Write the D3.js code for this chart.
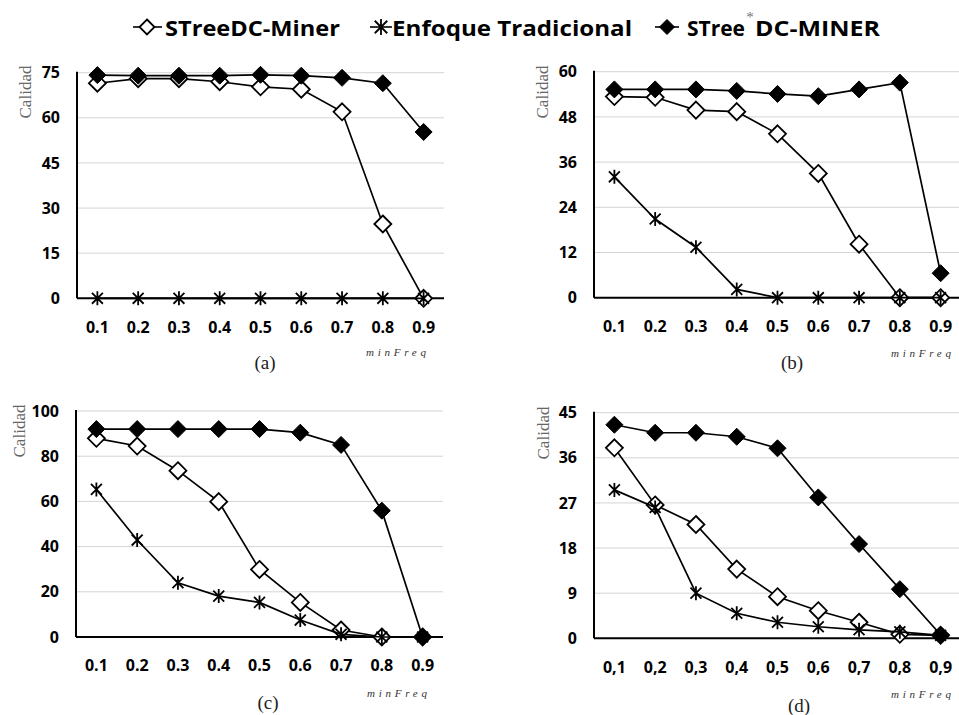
<!DOCTYPE html>
<html>
<head>
<meta charset="utf-8">
<script src="https://cdn.jsdelivr.net/npm/d3@7"></script>
<style>
  html, body { margin: 0; padding: 0; background: #fff; }
  svg { display: block; }
</style>
</head>
<body>
<svg id="chart" width="959" height="715"></svg>
<script>
// ---------- DATA ----------
const categories = ["0.1", "0.2", "0.3", "0.4", "0.5", "0.6", "0.7", "0.8", "0.9"];
const categoriesComma = ["0,1", "0,2", "0,3", "0,4", "0,5", "0,6", "0,7", "0,8", "0,9"];
const seriesNames = ["STreeDC-Miner", "Enfoque Tradicional", "STree*DC-MINER"];

const aMiner = [71.5, 73, 73, 72, 70.3, 69.5, 62, 24.7, 0];
const aTrad  = [0, 0, 0, 0, 0, 0, 0, 0, 0];
const aStar  = [74.2, 74, 74, 74, 74.3, 74, 73.3, 71.5, 55.3];
const aTicks = [0, 15, 30, 45, 60, 75];

const bMiner = [53.4, 53.2, 49.8, 49.4, 43.5, 33, 14.2, 0, 0];
const bTrad  = [32.1, 20.9, 13.4, 2.2, 0, 0, 0, 0, 0];
const bStar  = [55.3, 55.3, 55.3, 54.9, 54.1, 53.5, 55.3, 57.1, 6.5];
const bTicks = [0, 12, 24, 36, 48, 60];

const cMiner = [87.9, 84.5, 73.6, 59.9, 29.9, 15.3, 3.1, 0, 0];
const cTrad  = [65.3, 42.9, 24, 18.1, 15.3, 7.5, 1.2, 0, 0];
const cStar  = [92, 92, 92, 92, 92, 90.4, 85, 55.9, 0];
const cTicks = [0, 20, 40, 60, 80, 100];

const dMiner = [38, 26.6, 22.7, 13.8, 8.3, 5.5, 3.2, 0.8, 0.6];
const dTrad  = [29.6, 26.1, 9, 5, 3.2, 2.3, 1.7, 1.3, 0.6];
const dStar  = [42.6, 41, 41, 40.2, 37.9, 28.1, 18.8, 9.8, 0.7];
const dTicks = [0, 9, 18, 27, 36, 45];

const panelLabels = ["(a)", "(b)", "(c)", "(d)"];

// ---------- LAYOUT ----------
const panels = [
  { cats: categories, series: [aMiner, aTrad, aStar], ticks: aTicks, x0: 77,  y0: 298.3, yTop: 72.7, calX: 25,  calY: 92,  mfX: 396, mfY: 352, capX: 265, capY: 362, label: panelLabels[0] },
  { cats: categories, series: [bMiner, bTrad, bStar], ticks: bTicks, x0: 594, y0: 297.7, yTop: 71.7, calX: 542, calY: 92,  mfX: 921, mfY: 352.5, capX: 792, capY: 362.5, label: panelLabels[1] },
  { cats: categories, series: [cMiner, cTrad, cStar], ticks: cTicks, x0: 76,  y0: 637,   yTop: 411,  calX: 19,  calY: 431, mfX: 397, mfY: 693, capX: 268, capY: 702, label: panelLabels[2] },
  { cats: categoriesComma, series: [dMiner, dTrad, dStar], ticks: dTicks, x0: 594, y0: 638.3, yTop: 412.7, calX: 543, calY: 433, mfX: 921, mfY: 694, capX: 799, capY: 705, label: panelLabels[3] }
];
const plotW = 367;

const svg = d3.select("#chart");
const sansBold = "'Open Sans', 'Noto Sans', sans-serif";
const serif = "'Liberation Serif', 'DejaVu Serif', serif";

// marker drawers
function diamondPath(r) { return `M0,${-r}L${r},0L0,${r}L${-r},0Z`; }
function starPath(r) {
  const d = r * 0.78;
  return `M0,${-r}L0,${r}M${-d},${-d}L${d},${d}M${-d},${d}L${d},${-d}`;
}
function drawMarker(g, type, cx, cy, r) {
  if (type === 0) {
    g.append("path").attr("d", diamondPath(r)).attr("transform", `translate(${cx},${cy})`)
      .attr("fill", "#fff").attr("stroke", "#000").attr("stroke-width", 1.8);
  } else if (type === 1) {
    g.append("path").attr("d", starPath(r)).attr("transform", `translate(${cx},${cy})`)
      .attr("fill", "none").attr("stroke", "#000").attr("stroke-width", 1.8);
  } else {
    g.append("path").attr("d", diamondPath(r)).attr("transform", `translate(${cx},${cy})`)
      .attr("fill", "#000").attr("stroke", "#000").attr("stroke-width", 1);
  }
}

panels.forEach(p => {
  const g = svg.append("g");
  const x = d3.scaleBand().domain(p.cats).range([p.x0, p.x0 + plotW]);
  const ymax = p.ticks[p.ticks.length - 1];
  const y = d3.scaleLinear().domain([0, ymax]).range([p.y0, p.yTop]);

  // gridlines
  g.append("g").selectAll("line").data(p.ticks.filter(t => t > 0)).join("line")
    .attr("x1", p.x0).attr("x2", p.x0 + plotW)
    .attr("y1", d => y(d)).attr("y2", d => y(d))
    .attr("stroke", "#d4d4d4").attr("stroke-width", 1);

  // y axis labels
  const yAxis = g.append("g").attr("transform", `translate(${p.x0},0)`)
    .call(d3.axisLeft(y).tickValues(p.ticks).tickSize(0).tickPadding(17));
  yAxis.select(".domain").remove();
  yAxis.selectAll("text").attr("font-family", sansBold).attr("font-weight", "bold")
    .attr("font-size", 16).attr("fill", "#000");

  // x axis labels
  const xAxis = g.append("g").attr("transform", `translate(0,${p.y0})`)
    .call(d3.axisBottom(x).tickSize(0).tickPadding(23));
  xAxis.select(".domain").remove();
  xAxis.selectAll("text").attr("font-family", sansBold).attr("font-weight", "bold")
    .attr("font-size", 16).attr("fill", "#000");

  // axis lines
  g.append("line").attr("x1", p.x0).attr("x2", p.x0).attr("y1", p.yTop - 1).attr("y2", p.y0)
    .attr("stroke", "#000").attr("stroke-width", 2);
  g.append("line").attr("x1", p.x0).attr("x2", p.x0 + plotW).attr("y1", p.y0).attr("y2", p.y0)
    .attr("stroke", "#000").attr("stroke-width", 2);

  // series
  p.series.forEach((vals, si) => {
    const line = d3.line().x((d, i) => x(p.cats[i]) + x.bandwidth() / 2).y(d => y(d));
    g.append("path").datum(vals).attr("d", line)
      .attr("fill", "none").attr("stroke", "#000").attr("stroke-width", 1.7);
    const mg = g.append("g");
    vals.forEach((v, i) => {
      drawMarker(mg, si, x(p.cats[i]) + x.bandwidth() / 2, y(v), si === 1 ? 7 : 8.5);
    });
  });

  // Calidad label
  g.append("text").attr("transform", `translate(${p.calX},${p.calY}) rotate(-90)`)
    .attr("text-anchor", "middle").attr("dominant-baseline", "central")
    .attr("font-family", serif).attr("font-size", 17).attr("fill", "#666")
    .attr("textLength", 53).attr("lengthAdjust", "spacingAndGlyphs")
    .text("Calidad");

  // minFreq label
  g.append("text").attr("x", p.mfX).attr("y", p.mfY)
    .attr("text-anchor", "middle").attr("dominant-baseline", "central")
    .attr("font-family", serif).attr("font-style", "italic").attr("font-size", 11)
    .attr("fill", "#333").attr("textLength", 60).attr("lengthAdjust", "spacing")
    .text("minFreq");

  // panel caption
  g.append("text").attr("x", p.capX).attr("y", p.capY)
    .attr("text-anchor", "middle").attr("dominant-baseline", "central")
    .attr("font-family", serif).attr("font-size", 19).attr("fill", "#222")
    .text(p.label);
});

// ---------- LEGEND ----------
const lg = svg.append("g");
const legY = 27;
// item 1
lg.append("line").attr("x1", 133).attr("x2", 162).attr("y1", legY).attr("y2", legY).attr("stroke", "#000").attr("stroke-width", 1.6);
drawMarker(lg, 0, 147, legY, 7.5);
lg.append("text").attr("x", 165).attr("y", 36).attr("font-family", sansBold).attr("font-weight", "bold")
  .attr("font-size", 22).attr("textLength", 175).attr("lengthAdjust", "spacingAndGlyphs").text(seriesNames[0]);
// item 2
lg.append("line").attr("x1", 370).attr("x2", 392).attr("y1", legY).attr("y2", legY).attr("stroke", "#000").attr("stroke-width", 1.6);
drawMarker(lg, 1, 381, legY, 8);
lg.append("text").attr("x", 392).attr("y", 36).attr("font-family", sansBold).attr("font-weight", "bold")
  .attr("font-size", 22).attr("textLength", 240).attr("lengthAdjust", "spacingAndGlyphs").text(seriesNames[1]);
// item 3
lg.append("line").attr("x1", 655).attr("x2", 679).attr("y1", legY).attr("y2", legY).attr("stroke", "#000").attr("stroke-width", 1.6);
drawMarker(lg, 2, 667, legY, 7.5);
const parts = seriesNames[2].split("*");
lg.append("text").attr("x", 687).attr("y", 36).attr("font-family", sansBold).attr("font-weight", "bold")
  .attr("font-size", 22).attr("textLength", 58).attr("lengthAdjust", "spacingAndGlyphs").text(parts[0]);
lg.append("text").attr("x", 750).attr("y", 22).attr("text-anchor", "middle").attr("font-family", serif)
  .attr("font-size", 15).attr("fill", "#777").text("*");
lg.append("text").attr("x", 755).attr("y", 36).attr("font-family", sansBold).attr("font-weight", "bold")
  .attr("font-size", 22).attr("textLength", 125).attr("lengthAdjust", "spacingAndGlyphs").text(parts[1]);
</script>
</body>
</html>
